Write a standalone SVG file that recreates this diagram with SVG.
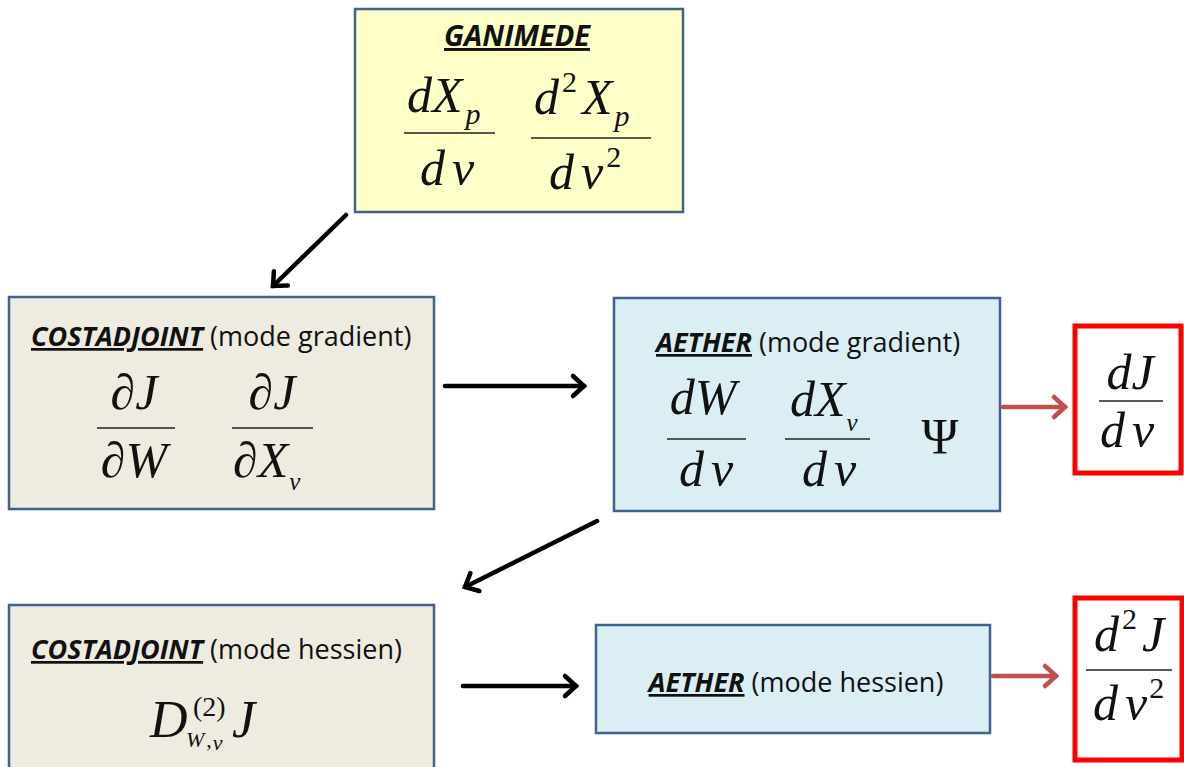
<svg xmlns="http://www.w3.org/2000/svg" width="1184" height="767" viewBox="0 0 1184 767">
<style>
.box{stroke:#41628f;stroke-width:2.5}
.yel{fill:#FFFFC8}
.tan{fill:#EEEBE0}
.blu{fill:#DBEEF4}
.red{fill:#fff;stroke:#FF0000;stroke-width:5}
.ttl{font-family:"Open Sans","Liberation Sans",sans-serif;font-size:27px;fill:#111}
.b{font-weight:bold;font-style:italic;text-decoration:underline}
.m{font-family:"Liberation Serif","Times New Roman",serif;font-style:italic;font-size:50px;fill:#111}
.mu{font-style:normal}
.sup{font-style:normal;font-size:30px}
.fl{stroke:#222;stroke-width:1.6}
.arr{stroke:#000;stroke-width:4.5;fill:none;stroke-linecap:round}
.rarr{stroke:#C0504D;stroke-width:4.5;fill:none;stroke-linecap:round}
</style>
<defs>
<marker id="ah" markerUnits="userSpaceOnUse" markerWidth="30" markerHeight="30" viewBox="-20 -15 30 30" refX="0" refY="0" orient="auto">
<path d="M-11,-10 L0,0 L-11,10" stroke="#000" stroke-width="4.5" fill="none" stroke-linecap="round"/>
</marker>
<marker id="rh" markerUnits="userSpaceOnUse" markerWidth="30" markerHeight="30" viewBox="-20 -15 30 30" refX="0" refY="0" orient="auto">
<path d="M-11,-10 L0,0 L-11,10" stroke="#C0504D" stroke-width="4.5" fill="none" stroke-linecap="round"/>
</marker>
</defs>

<g id="connectors">
<path class="arr" d="M346,215 L273,286" marker-end="url(#ah)"/>
<path class="arr" d="M445,386 L584,386" marker-end="url(#ah)"/>
<path class="arr" d="M597,521 L465,587" marker-end="url(#ah)"/>
<path class="arr" d="M463,686 L576,686" marker-end="url(#ah)"/>
<path class="rarr" d="M1003,407 L1065,407" marker-end="url(#rh)"/>
<path class="rarr" d="M993,676 L1056,676" marker-end="url(#rh)"/>
</g>

<g id="ganimede">
<rect class="box yel" x="355" y="9" width="328" height="203"/>
<text class="ttl b" x="517" y="46" text-anchor="middle" style="font-size:29px">GANIMEDE</text>
<text class="m" x="407" y="112">dX<tspan style="font-size:30px" dx="3" dy="12">p</tspan></text>
<line class="fl" x1="404" y1="133" x2="495" y2="133"/>
<text class="m" x="420" y="185">d<tspan dx="7">ν</tspan></text>
<text class="m" x="534" y="114">d<tspan class="sup" dx="3" dy="-22">2</tspan><tspan dx="5" dy="22">X</tspan><tspan style="font-size:30px" dx="2" dy="12">p</tspan></text>
<line class="fl" x1="531" y1="138" x2="651" y2="138"/>
<text class="m" x="549" y="189">d<tspan dx="7">ν</tspan><tspan class="sup" dx="3" dy="-22">2</tspan></text>
</g>

<g id="costadjoint-gradient">
<rect class="box tan" x="9" y="297" width="425" height="212"/>
<text class="ttl" x="31" y="346"><tspan class="b">COSTADJOINT</tspan> (mode gradient)</text>
<text class="m mu" x="134" y="409" text-anchor="middle">∂<tspan class="m">J</tspan></text>
<line class="fl" x1="97" y1="428" x2="175" y2="428"/>
<text class="m mu" x="134" y="477" text-anchor="middle">∂<tspan class="m">W</tspan></text>
<text class="m mu" x="272" y="409" text-anchor="middle">∂<tspan class="m">J</tspan></text>
<line class="fl" x1="232" y1="428" x2="313" y2="428"/>
<text class="m mu" x="233" y="477">∂<tspan class="m">X</tspan><tspan class="m" style="font-size:25px" dx="1" dy="13">ν</tspan></text>
</g>

<g id="aether-gradient">
<rect class="box blu" x="614" y="298" width="386" height="213"/>
<text class="ttl" x="656" y="352"><tspan class="b">AETHER</tspan> (mode gradient)</text>
<text class="m" x="703" y="414" text-anchor="middle">dW</text>
<line class="fl" x1="667" y1="439" x2="746" y2="439"/>
<text class="m" x="679" y="486">d<tspan dx="7">ν</tspan></text>
<text class="m" x="790" y="416">dX<tspan style="font-size:25px" dx="1" dy="15">ν</tspan></text>
<line class="fl" x1="785" y1="439" x2="870" y2="439"/>
<text class="m" x="802" y="486">d<tspan dx="7">ν</tspan></text>
<text class="m mu" x="940" y="453" text-anchor="middle">Ψ</text>
</g>

<g id="result-gradient">
<rect class="red" x="1075" y="326" width="106" height="147"/>
<text class="m" x="1130" y="389" text-anchor="middle">dJ</text>
<line class="fl" x1="1099" y1="401" x2="1163" y2="401"/>
<text class="m" x="1100" y="447">d<tspan dx="7">ν</tspan></text>
</g>

<g id="costadjoint-hessien">
<rect class="box tan" x="9" y="605" width="425" height="170"/>
<text class="ttl" x="31" y="659"><tspan class="b">COSTADJOINT</tspan> (mode hessien)</text>
<text class="m" x="150" y="737" style="font-size:52px">D</text>
<text class="m mu" x="193" y="716" style="font-size:28px">(2)</text>
<text class="m" x="186" y="747" style="font-size:22px">W<tspan class="mu" dx="2">,</tspan><tspan dx="1" dy="3">ν</tspan></text>
<text class="m" x="232" y="737" style="font-size:52px">J</text>
</g>

<g id="aether-hessien">
<rect class="box blu" x="596" y="625" width="394" height="108"/>
<text class="ttl" x="796" y="692" text-anchor="middle"><tspan class="b">AETHER</tspan> (mode hessien)</text>
</g>

<g id="result-hessien">
<rect class="red" x="1075" y="598" width="107" height="162"/>
<text class="m" x="1129" y="651" text-anchor="middle">d<tspan class="sup" dx="3" dy="-22">2</tspan><tspan dx="5" dy="22">J</tspan></text>
<line class="fl" x1="1086" y1="670" x2="1172" y2="670"/>
<text class="m" x="1093" y="720">d<tspan dx="7">ν</tspan><tspan class="sup" dx="2" dy="-22">2</tspan></text>
</g>
</svg>
